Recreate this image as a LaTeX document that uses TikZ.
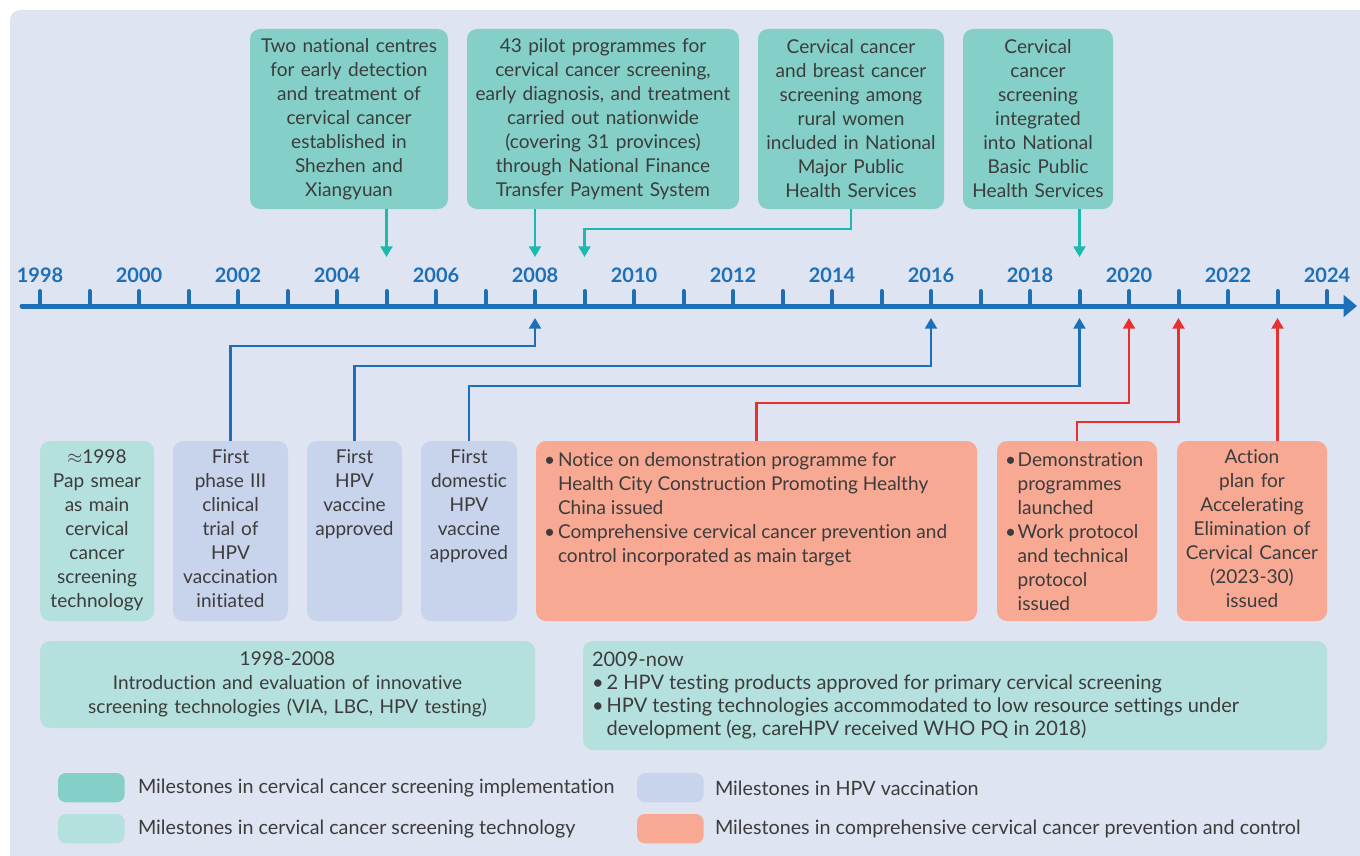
\documentclass[tikz,border=0pt]{standalone}
\usepackage{fontspec}
\setmainfont[Ligatures=NoCommon]{Lato}
\usetikzlibrary{arrows.meta,calc}

\definecolor{bgc}{HTML}{DFE4F3}
\definecolor{impl}{HTML}{84D0C9}
\definecolor{tech}{HTML}{B4E1DE}
\definecolor{vacc}{HTML}{C8D3EC}
\definecolor{comp}{HTML}{F7A993}
\definecolor{txt}{HTML}{3C3C3C}
\definecolor{axis}{HTML}{1D6FB8}
\definecolor{tealline}{HTML}{1DB8AE}
\definecolor{redline}{HTML}{E8302F}

\begin{document}
\begin{tikzpicture}[x=0.75pt,y=-0.75pt,
  every node/.style={inner sep=0pt, outer sep=0pt},
  boxfont/.style={font=\fontsize{14.3}{18}\selectfont, text=txt},
  card/.style={rounded corners=7.5pt, anchor=north west, minimum height=135pt},
  body/.style={boxfont, align=center},
  year/.style={font=\fontsize{15}{18}\selectfont\bfseries, text=axis},
  link/.style={line width=1.6pt, -{Triangle[width=9pt,length=8pt]}},
  swatch/.style={rounded corners=6pt, anchor=north west, minimum width=50pt, minimum height=22pt},
  legtext/.style={font=\fontsize{14.8}{18}\selectfont, text=txt, anchor=west}
]
\useasboundingbox (0,0) rectangle (1360,856);
\fill[bgc, rounded corners=7.5pt] (10,10) rectangle (1375,870);

% ---- time axis ----
\draw[axis, line width=3.75pt, line cap=round, -{Triangle[width=16pt,length=10pt]}] (22,306) -- (1357,306);
\foreach \yr in {1998,...,2024}{
  \pgfmathsetmacro\xx{40+(\yr-1998)*49.5}
  \draw[axis, line width=3pt, line cap=round] (\xx,291) -- (\xx,306);
}
\foreach \yr in {1998,2000,...,2024}{
  \pgfmathsetmacro\xx{40+(\yr-1998)*49.5}
  \node[year] (lbl\yr) at (\xx,275) {\yr};
}

% arrow end points above and below the axis
\coordinate (top2005) at (386.5,257);
\coordinate (top2008) at (535,257);
\coordinate (top2009) at (584.5,257);
\coordinate (top2019) at (1079.5,257);
\coordinate (bot2008) at (535,318);
\coordinate (bot2016) at (931,318);
\coordinate (bot2019) at (1079.5,318);
\coordinate (bot2020) at (1129,318);
\coordinate (bot2021) at (1178.5,318);
\coordinate (bot2023) at (1277.5,318);

% ---- screening implementation milestones (above the axis) ----
\node[card, body, fill=impl, minimum width=148.5pt, text width=146pt] (t1) at (250,29)
  {Two national centres\\for early detection\\and treatment of\\cervical cancer\\established in\\Shezhen and\\Xiangyuan};
\node[card, body, fill=impl, minimum width=204pt, text width=202pt] (t2) at (467,29)
  {43 pilot programmes for\\cervical cancer screening,\\early diagnosis, and treatment\\carried out nationwide\\(covering 31 provinces)\\through National Finance\\Transfer Payment System};
\node[card, body, fill=impl, minimum width=139.5pt, text width=137pt] (t3) at (758,29)
  {Cervical cancer\\and breast cancer\\screening among\\rural women\\included in National\\Major Public\\Health Services};
\node[card, body, fill=impl, minimum width=112.5pt, text width=110pt] (t4) at (963,29)
  {Cervical\\cancer\\screening\\integrated\\into National\\Basic Public\\Health Services};

\draw[link, tealline] (t1.south -| top2005) -- (top2005);
\draw[link, tealline] (t2.south -| top2008) -- (top2008);
\draw[link, tealline] (t3.south) -- ++(0,20) -| (top2009);
\draw[link, tealline] (t4.south -| top2019) -- (top2019);

% ---- milestones below the axis ----
\node[card, fill=tech, minimum width=85.5pt]  (bA) at (40,441) {};
\node[card, fill=vacc, minimum width=86.25pt] (bB) at (173,441) {};
\node[card, fill=vacc, minimum width=71.25pt] (bC) at (307,441) {};
\node[card, fill=vacc, minimum width=72pt]    (bD) at (421,441) {};
\node[card, fill=comp, minimum width=330.75pt] (bE) at (536,441) {};
\node[card, fill=comp, minimum width=120pt]   (bF) at (997,441) {};
\node[card, fill=comp, minimum width=112.5pt] (bG) at (1177,441) {};

\node[body, anchor=north, text width=84pt] (xA) at ($(bA.north)+(0,9)$)
  {$\approx$1998\\Pap smear\\as main\\cervical\\cancer\\screening\\technology};
\node[body, anchor=north, text width=84pt] (xB) at ($(bB.north)+(0,9)$)
  {First\\phase III\\clinical\\trial of\\HPV\\vaccination\\initiated};
\node[body, anchor=north, text width=70pt] (xC) at ($(bC.north)+(0,9)$)
  {First\\HPV\\vaccine\\approved};
\node[body, anchor=north, text width=70pt] (xD) at ($(bD.north)+(0,9)$)
  {First\\domestic\\HPV\\vaccine\\approved};
\node[boxfont, anchor=north west, align=left] (xE) at (544,450)
  {\begin{tabular}{@{}p{10.5pt}@{}l@{}}
   \textbullet & Notice on demonstration programme for\\
               & Health City Construction Promoting Healthy\\
               & China issued\\
   \textbullet & Comprehensive cervical cancer prevention and\\
               & control incorporated as main target
   \end{tabular}};
\node[boxfont, anchor=north west, align=left] (xF) at (1005,450)
  {\begin{tabular}{@{}p{9.5pt}@{}l@{}}
   \textbullet & Demonstration\\
               & programmes\\
               & launched\\
   \textbullet & Work protocol\\
               & and technical\\
               & protocol\\
               & issued
   \end{tabular}};
\node[body, anchor=north, text width=110pt] (xG) at ($(bG.north)+(0,9)$)
  {Action\\plan for\\Accelerating\\Elimination of\\Cervical Cancer\\(2023-30)\\issued};

\draw[link, axis] (bB.north) -- ++(0,-95) -| (bot2008);
\draw[link, axis] (bC.north) -- ++(0,-75) -| (bot2016);
\draw[link, axis] (bD.north) -- ++(0,-55) -| (bot2019);
\draw[link, redline] (bE.north) -- ++(0,-38) -| (bot2020);
\draw[link, redline] (bF.north) -- ++(0,-19) -| (bot2021);
\draw[link, redline] (bG.north -| bot2023) -- (bot2023);

% ---- screening technology periods ----
\node[card, body, fill=tech, minimum width=371.25pt, minimum height=65.25pt, text width=360pt] (w1) at (40,641)
  {1998-2008\\Introduction and evaluation of innovative\\screening technologies (VIA, LBC, HPV testing)};
\node[card, fill=tech, minimum width=558pt, minimum height=81.75pt] (w2) at (583,641) {};
\node[font=\fontsize{15}{17.25}\selectfont, text=txt, anchor=north west, align=left] (xw2) at (592,650)
  {\begin{tabular}{@{}p{11pt}@{}l@{}}
   \multicolumn{2}{@{}l@{}}{2009-now}\\
   \textbullet & 2 HPV testing products approved for primary cervical screening\\
   \textbullet & HPV testing technologies accommodated to low resource settings under\\
               & development (eg, careHPV received WHO PQ in 2018)
   \end{tabular}};

% ---- legend ----
\node[swatch, fill=impl] (k1) at (58,773) {};
\node[swatch, fill=tech] (k2) at (58,814) {};
\node[swatch, fill=vacc] (k3) at (637,773) {};
\node[swatch, fill=comp] (k4) at (637,814) {};
\node[legtext] (l1) at (138,788) {Milestones in cervical cancer screening implementation};
\node[legtext] (l2) at (138,829) {Milestones in cervical cancer screening technology};
\node[legtext] (l3) at (715,788) {Milestones in HPV vaccination};
\node[legtext] (l4) at (715,829) {Milestones in comprehensive cervical cancer prevention and control};
\end{tikzpicture}
\end{document}
